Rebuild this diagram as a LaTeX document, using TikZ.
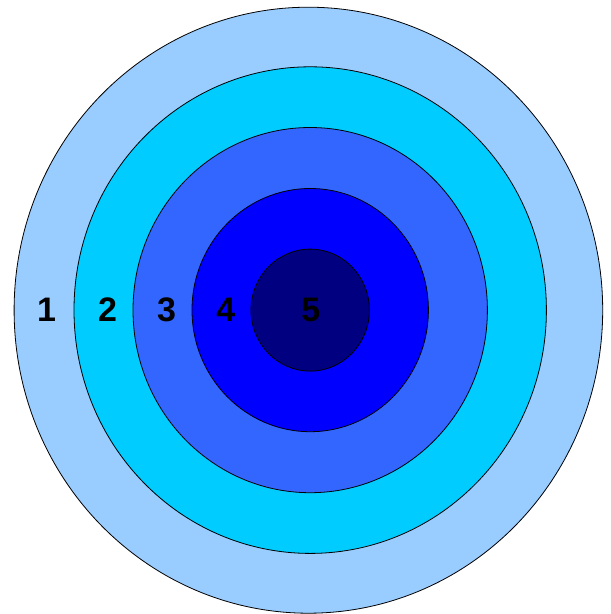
\documentclass[tikz,border=0pt]{standalone}
\usepackage{fontspec}
\setmainfont{Liberation Sans}
\definecolor{ringA}{HTML}{99CCFF}
\definecolor{ringB}{HTML}{00CCFF}
\definecolor{ringC}{HTML}{3366FF}
\definecolor{ringD}{HTML}{0000FF}
\definecolor{ringE}{HTML}{000080}
\begin{document}
\begin{tikzpicture}[x=1pt,y=-1pt,
  ring/.style={draw=black,line width=0.8pt},
  lbl/.style={inner sep=0pt,font=\fontsize{34}{34}\selectfont\bfseries,text=black}]
\useasboundingbox (0,0) rectangle (611,614);
\coordinate (c) at (310.2,310.1);
\coordinate (co) at (308.4,310.2);
\fill[ringA,ring] (co) ellipse [x radius=294.3pt,y radius=303pt];
\fill[ringB,ring] (c) ellipse [x radius=236.2pt,y radius=243.3pt];
\fill[ringC,ring] (c) ellipse [x radius=177.2pt,y radius=182.6pt];
\fill[ringD,ring] (c) ellipse [x radius=118.2pt,y radius=121.6pt];
\fill[ringE,ring] (c) ellipse [x radius=59.2pt,y radius=61pt];
\node[lbl] (l1) at (46.7,309.8) {1};
\node[lbl] (l2) at (107.5,309.8) {2};
\node[lbl] (l3) at (166.7,309.8) {3};
\node[lbl] (l4) at (225.8,309.8) {4};
\node[lbl] (l5) at (310.8,309.8) {5};
\end{tikzpicture}
\end{document}
